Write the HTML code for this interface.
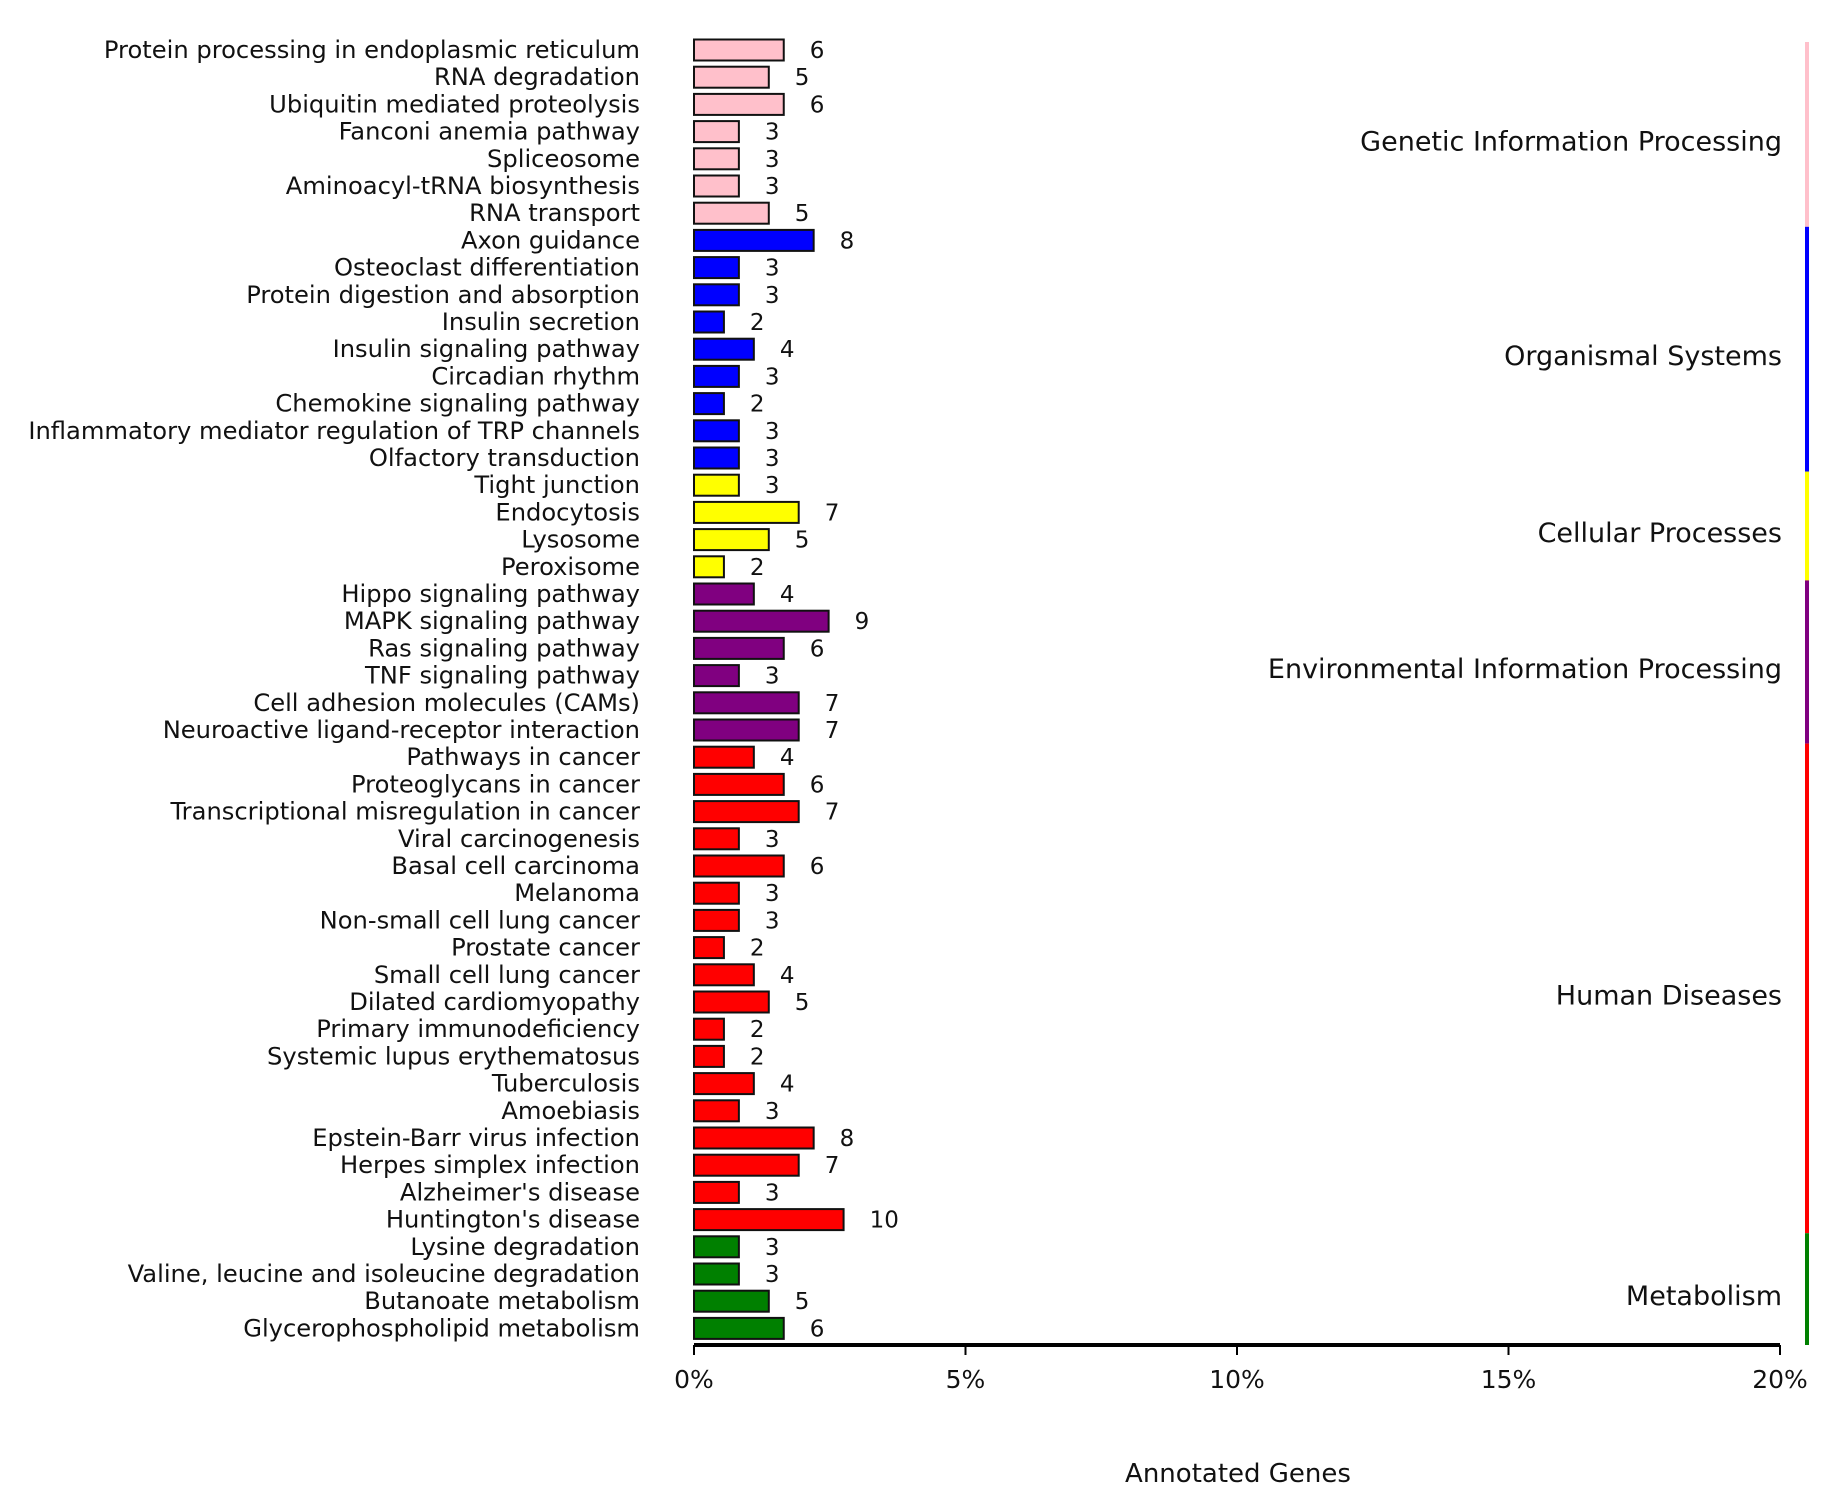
<!DOCTYPE html>
<html><head><meta charset="utf-8"><style>
html,body{margin:0;padding:0;background:#fff;}
svg text{font-family:"DejaVu Sans","Liberation Sans",sans-serif;fill:#111;}
</style></head><body>
<svg id="chart" width="1831" height="1500" viewBox="0 0 1831 1500" xmlns="http://www.w3.org/2000/svg"></svg>
<script>
const categories = ["Protein processing in endoplasmic reticulum","RNA degradation","Ubiquitin mediated proteolysis","Fanconi anemia pathway","Spliceosome","Aminoacyl-tRNA biosynthesis","RNA transport","Axon guidance","Osteoclast differentiation","Protein digestion and absorption","Insulin secretion","Insulin signaling pathway","Circadian rhythm","Chemokine signaling pathway","Inflammatory mediator regulation of TRP channels","Olfactory transduction","Tight junction","Endocytosis","Lysosome","Peroxisome","Hippo signaling pathway","MAPK signaling pathway","Ras signaling pathway","TNF signaling pathway","Cell adhesion molecules (CAMs)","Neuroactive ligand-receptor interaction","Pathways in cancer","Proteoglycans in cancer","Transcriptional misregulation in cancer","Viral carcinogenesis","Basal cell carcinoma","Melanoma","Non-small cell lung cancer","Prostate cancer","Small cell lung cancer","Dilated cardiomyopathy","Primary immunodeficiency","Systemic lupus erythematosus","Tuberculosis","Amoebiasis","Epstein-Barr virus infection","Herpes simplex infection","Alzheimer's disease","Huntington's disease","Lysine degradation","Valine, leucine and isoleucine degradation","Butanoate metabolism","Glycerophospholipid metabolism"];
const counts = [6,5,6,3,3,3,5,8,3,3,2,4,3,2,3,3,3,7,5,2,4,9,6,3,7,7,4,6,7,3,6,3,3,2,4,5,2,2,4,3,8,7,3,10,3,3,5,6];
const groupNames = ["Genetic Information Processing","Organismal Systems","Cellular Processes","Environmental Information Processing","Human Diseases","Metabolism"];
const groupSizes = [7,9,4,6,18,4];
const groupColors = ["#ffc0cb","#0000ff","#ffff00","#800080","#ff0000","#008000"];
const totalGenes = 363;
const xTicks = [0,5,10,15,20];

const svg = document.getElementById('chart');
const NS = 'http://www.w3.org/2000/svg';
const X0 = 694, X1 = 1780, Y0 = 50, STEP = 27.2, BH = 21, AXY = 1345;
function xs(pct){ return X0 + (X1 - X0) * pct / 20; }
function ys(i){ return Y0 + STEP * i; }
function mk(tag, attrs, parent){ const e = document.createElementNS(NS, tag); for (const k in attrs) e.setAttribute(k, attrs[k]); (parent||svg).appendChild(e); return e; }

let gi = 0, acc = groupSizes[0];
const rowGroup = categories.map((c, i) => { while (i >= acc) { gi++; acc += groupSizes[gi]; } return gi; });

categories.forEach((c, i) => {
  const y = ys(i);
  const pct = counts[i] / totalGenes * 100;
  const t = mk('text', {x: 640, y: y + 8, 'text-anchor': 'end', 'font-size': 24.2});
  t.textContent = c;
  
  
  const r = mk('rect', {x: X0, y: y - BH/2, width: xs(pct) - X0, height: BH, fill: groupColors[rowGroup[i]], stroke: '#111', 'stroke-width': 2});
  
  
  const v = mk('text', {x: xs(pct) + 26, y: y + 8, 'font-size': 23});
  v.textContent = counts[i];
  
  
});

let start = 0;
groupSizes.forEach((n, g) => {
  const top = g === 0 ? 42 : ys(start) - STEP/2;
  const bot = g === groupSizes.length - 1 ? AXY : ys(start + n) - STEP/2;
  const l = mk('rect', {x: 1805, y: top, width: 4, height: bot - top, fill: groupColors[g]});
  
  
  const t = mk('text', {x: 1782, y: (top + bot)/2 + 16, 'text-anchor': 'end', 'font-size': 27});
  t.textContent = groupNames[g];
  
  
  start += n;
});

const ax = mk('line', {x1: X0, x2: X1, y1: AXY, y2: AXY, stroke: '#000', 'stroke-width': 4});


xTicks.forEach(v => {
  const tk = mk('line', {x1: xs(v), x2: xs(v), y1: AXY, y2: AXY + 10, stroke: '#000', 'stroke-width': 2});
  
  
  const t = mk('text', {x: xs(v), y: AXY + 43, 'text-anchor': 'middle', 'font-size': 25});
  t.textContent = v + '%';
  
  
});
const at = mk('text', {x: 1238, y: 1482, 'text-anchor': 'middle', 'font-size': 26});
at.textContent = 'Annotated Genes';


</script>
</body></html>
